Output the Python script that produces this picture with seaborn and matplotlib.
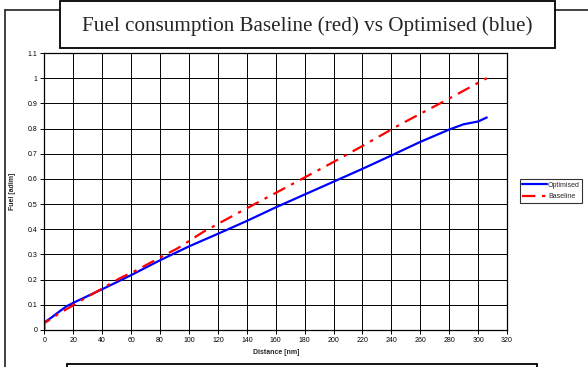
import matplotlib
matplotlib.use("Agg")
import matplotlib.pyplot as plt
from matplotlib.patches import Rectangle
from matplotlib.lines import Line2D
import seaborn as sns
import pandas as pd

# ---- data ----
dist_opt = [0, 5, 10, 15, 20, 40, 60, 80, 100, 120, 140, 160, 180, 200, 220, 240, 260, 280, 290, 300, 306]
fuel_opt = [0.030, 0.050, 0.072, 0.093, 0.108, 0.162, 0.218, 0.277, 0.332, 0.382, 0.433, 0.487,
            0.538, 0.589, 0.640, 0.693, 0.747, 0.796, 0.817, 0.828, 0.844]

dist_base = [0, 0, 5, 10, 17, 25, 40, 52, 64, 80, 92, 110, 135, 170, 198, 221, 246, 278, 306]
fuel_base = [0.0, 0.028, 0.045, 0.066, 0.088, 0.116, 0.165, 0.205, 0.238, 0.288, 0.324, 0.390,
             0.468, 0.575, 0.661, 0.734, 0.816, 0.913, 1.000]

x_ticks = list(range(0, 321, 20))
y_ticks = [0, 0.1, 0.2, 0.3, 0.4, 0.5, 0.6, 0.7, 0.8, 0.9, 1, 1.1]
y_tick_labels = ["0", "0.1", "0.2", "0.3", "0.4", "0.5", "0.6", "0.7", "0.8", "0.9", "1", "1.1"]

title = "Fuel consumption Baseline (red) vs Optimised (blue)"
x_label = "Distance [nm]"
y_label = "Fuel [adim]"
series_names = ["Optimised", "Baseline"]

sns.set_style("white")
plt.rcParams["font.family"] = ["Liberation Sans", "DejaVu Sans"]

W, H = 588, 367
fig = plt.figure(figsize=(W / 100, H / 100), dpi=100)

def fx(px):
    return px / W

def fy(py):
    return 1 - py / H

# outer chart border (extends past right/bottom edges)
fig.add_artist(Line2D([fx(4.5), fx(4.5)], [fy(9.5), fy(400)], color="#333333", lw=1.3))
fig.add_artist(Line2D([fx(4.5), fx(620)], [fy(9.5), fy(9.5)], color="#333333", lw=1.3))

ax = fig.add_axes([fx(44.4), fy(330), fx(507) - fx(44.4), fy(53) - fy(330)])

df_opt = pd.DataFrame({"Distance": dist_opt, "Fuel": fuel_opt})
df_base = pd.DataFrame({"Distance": dist_base, "Fuel": fuel_base})

sns.lineplot(data=df_opt, x="Distance", y="Fuel", ax=ax, sort=False, color="#0000ff",
             lw=1.6, estimator=None, label=series_names[0])
sns.lineplot(data=df_base, x="Distance", y="Fuel", ax=ax, sort=False, color="#ff0000",
             lw=1.6, estimator=None, label=series_names[1], dashes=False)
ax.lines[1].set_dashes([6, 3, 1.5, 3])

ax.set_xlim(0, 320)
ax.set_ylim(0, 1.1)
ax.set_xticks(x_ticks)
ax.set_xticklabels([str(t) for t in x_ticks])
ax.set_yticks(y_ticks)
ax.set_yticklabels(y_tick_labels)
ax.grid(True, color="black", lw=0.7)
ax.set_axisbelow(True)
for s in ax.spines.values():
    s.set_color("black")
    s.set_linewidth(0.9)
ax.tick_params(axis="both", labelsize=5, colors="black", length=3, width=0.7,
               direction="out", pad=2, left=True, bottom=True)
ax.set_xlabel(x_label, fontsize=5, fontweight="bold", labelpad=4)
ax.set_ylabel(y_label, fontsize=5, fontweight="bold", labelpad=8)

leg = ax.legend(loc="center left", bbox_to_anchor=(fx(520), fy(191)),
                bbox_transform=fig.transFigure, fontsize=5, frameon=True,
                fancybox=False, edgecolor="black", handlelength=3.6,
                handletextpad=0.1, borderpad=0.35, labelspacing=0.6, borderaxespad=0)
leg.get_frame().set_linewidth(0.8)

# title box
fig.add_artist(Rectangle((fx(59.5), fy(48)), fx(555) - fx(59.5), fy(1) - fy(48),
                         facecolor="white", edgecolor="black", lw=1.3, zorder=5))
fig.text(fx(307), fy(26), title, ha="center", va="center", fontsize=15.2,
         family=["Liberation Serif", "DejaVu Serif"], zorder=6)

# bottom box (cut by the image edge)
fig.add_artist(Rectangle((fx(66.5), fy(390)), fx(537) - fx(66.5), fy(363.5) - fy(390),
                         facecolor="white", edgecolor="black", lw=1.3, zorder=5))

fig.savefig("out.png", dpi=100)
